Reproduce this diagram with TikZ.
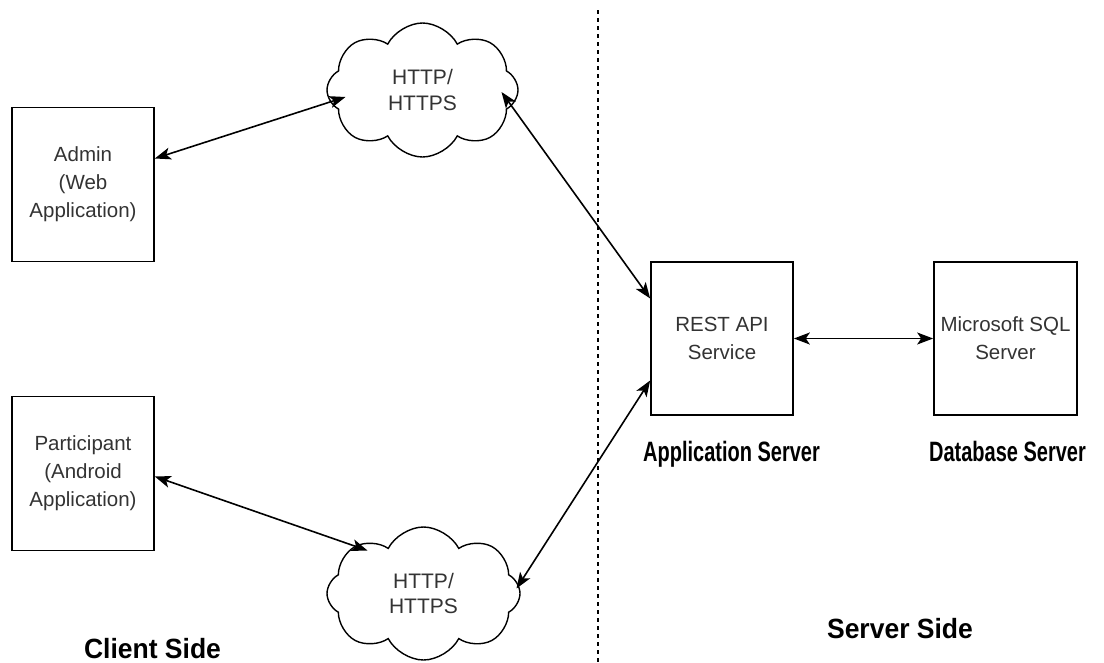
\documentclass[tikz,border=0pt]{standalone}
\usepackage{fontspec}
\setmainfont{Liberation Sans}
\definecolor{boxtext}{RGB}{51, 51, 51}
\usetikzlibrary{shapes.symbols, arrows.meta, positioning}
\newcommand{\tallbold}[2]{\scalebox{1}[#1]{\bfseries #2}}
\tikzset{
    srvbox/.style={rectangle, draw=black, line width=1.7pt, minimum width=142pt,
                   minimum height=154pt, inner sep=0pt, align=center, text=boxtext,
                   font=\fontsize{20.5}{28}\selectfont},
    netcloud/.style={cloud, cloud puffs=8, cloud puff arc=125, aspect=1.43, draw=black,
                     line width=1.4pt, minimum width=191pt, minimum height=134pt, inner sep=0pt,
                     align=center, text=boxtext, font=\fontsize{21}{25.5}\selectfont},
    arrow/.style={{Stealth[length=16pt, width=12pt, inset=4pt]}-{Stealth[length=16pt, width=12pt, inset=4pt]}, line width=1.6pt, black},
    sidelabel/.style={anchor=base, inner sep=0pt, font=\fontsize{26.5}{30}\selectfont},
    tierlabel/.style={anchor=base, inner sep=0pt, font=\fontsize{20}{24}\selectfont},
}

\begin{document}
\begin{tikzpicture}[x=1pt, y=-1pt]
            \useasboundingbox (0,0) rectangle (1104,662);

            % Divider between client and server
            \coordinate (divtop) at (598, 10);
            \coordinate (divbot) at (598, 662);
            \draw[line width=1.2pt, dash pattern=on 4pt off 4pt] (divtop) -- (divbot);

            % Client side
            \node[srvbox] (admin) at (83, 184.5) {Admin\\(Web\\Application)};
            \node[srvbox] (part) at (83, 473.5) {Participant\\(Android\\Application)};
            \node[sidelabel] (clientlbl) at (152.5, 658) {\tallbold{1.05}{Client Side}};

            % Network
            \node[netcloud] (topcloud) at (422.5, 90) {HTTP/\\HTTPS};
            \node[netcloud, minimum width=193pt, minimum height=133pt] (botcloud) at (423.5, 593.5) {HTTP/\\HTTPS};

            % Server side
            \node[srvbox, minimum height=153pt] (rest) at (722, 338.5) {REST API\\Service};
            \node[srvbox, minimum width=143pt, minimum height=153pt] (sql) at (1005.5, 338.5) {Microsoft SQL\\Server};
            \node[tierlabel] (applbl) at (731.5, 461) {\tallbold{1.4}{Application Server}};
            \node[tierlabel] (dblbl) at (1007.5, 461) {\tallbold{1.4}{Database Server}};
            \node[sidelabel] (serverlbl) at (900, 638) {\tallbold{1.05}{Server Side}};

            % Connections
            \draw[arrow] ([yshift=26pt]admin.east) -- ([shift={(-77,7)}]topcloud.center);
            \draw[arrow] ([shift={(79,2)}]topcloud.center) -- ([yshift=40pt]rest.west);
            \draw[arrow] ([yshift=-3pt]part.east) -- ([shift={(-56,-43)}]botcloud.center);
            \draw[arrow] ([shift={(93,-5)}]botcloud.center) -- ([yshift=-42pt]rest.west);
            \draw[arrow] (rest.east) -- (sql.west);
        \end{tikzpicture}
\end{document}
